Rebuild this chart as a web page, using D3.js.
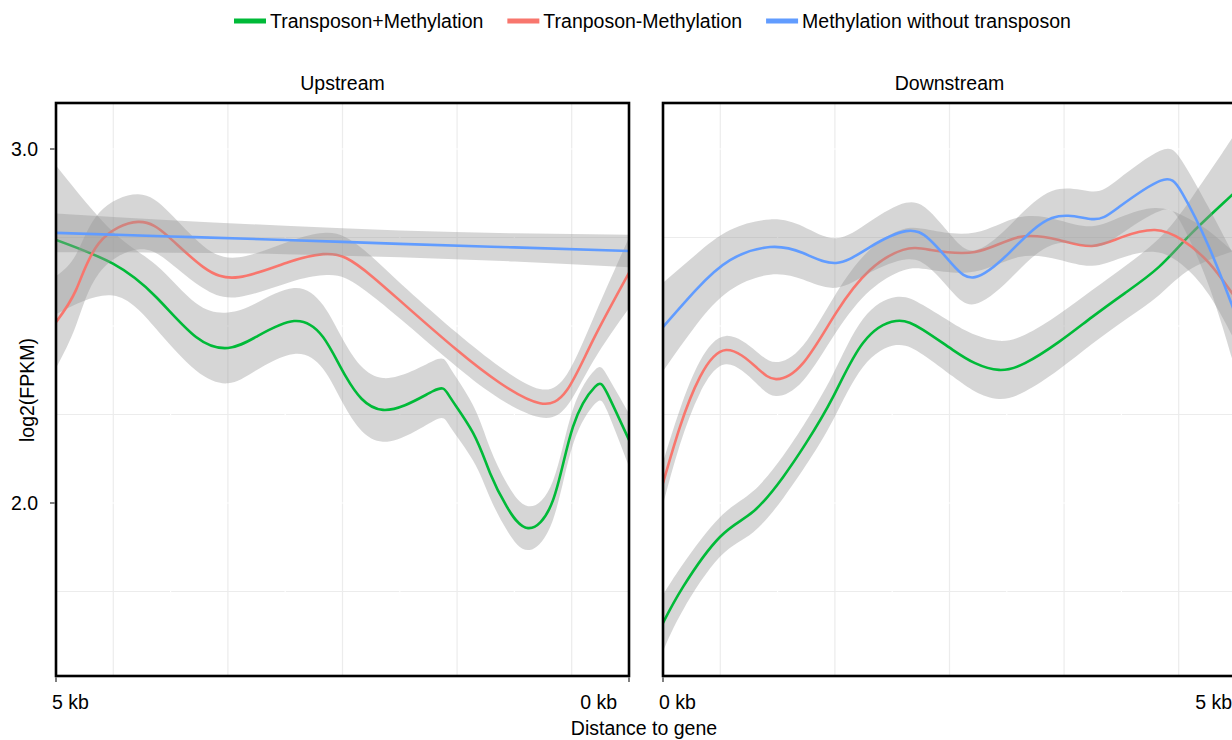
<!DOCTYPE html>
<html>
<head>
<meta charset="utf-8">
<script src="https://cdn.jsdelivr.net/npm/d3@7"></script>
<style>
  html, body { margin: 0; padding: 0; background: #fff; }
  svg { display: block; font-family: "Liberation Sans", Arial, Helvetica, sans-serif; }
</style>
</head>
<body>
<svg id="chart" width="1232" height="740"></svg>
<script>
// ---------------- data ----------------
const seriesNames = ["Transposon+Methylation", "Tranposon-Methylation", "Methylation without transposon"];
const seriesColors = ["#00BA38", "#F8766D", "#619CFF"];
const panelTitles = ["Upstream", "Downstream"];
const xTickLabelsUp = ["5 kb", "0 kb"];
const xTickLabelsDown = ["0 kb", "5 kb"];
const yTickValues = [2.0, 3.0];
const yTickLabels = ["2.0", "3.0"];

// Upstream (distance to gene, kb)
const upGreenX = [5.0, 4.503, 4.127, 3.778, 3.499, 3.255, 2.923, 2.670, 2.469, 2.147, 1.710, 1.562, 1.361, 1.213, 1.065, 0.881, 0.663, 0.489, 0.297, 0.192, 0.0];
const upGreenY = [2.743, 2.676, 2.582, 2.469, 2.438, 2.469, 2.514, 2.469, 2.356, 2.263, 2.316, 2.299, 2.198, 2.085, 1.989, 1.929, 2.008, 2.215, 2.328, 2.311, 2.178];
const upGreenSE = [0.21, 0.09, 0.09, 0.095, 0.1, 0.095, 0.093, 0.09, 0.09, 0.09, 0.085, 0.083, 0.078, 0.07, 0.066, 0.062, 0.055, 0.05, 0.048, 0.05, 0.075];

const upRedX = [5.0, 4.825, 4.625, 4.284, 4.014, 3.717, 3.403, 2.967, 2.670, 2.469, 2.234, 1.937, 1.501, 1.126, 0.777, 0.541, 0.314, 0.0];
const upRedY = [2.511, 2.602, 2.734, 2.794, 2.751, 2.667, 2.638, 2.681, 2.703, 2.692, 2.638, 2.554, 2.432, 2.339, 2.282, 2.319, 2.460, 2.650];
const upRedSE = [0.13, 0.1, 0.085, 0.078, 0.07, 0.06, 0.056, 0.058, 0.06, 0.058, 0.055, 0.05, 0.048, 0.045, 0.04, 0.045, 0.06, 0.1];

const upBlueX = [5, 4, 3, 2, 1, 0];
const upBlueY = [2.763, 2.753, 2.743, 2.732, 2.722, 2.712];
const upBlueSE = [0.055, 0.046, 0.04, 0.038, 0.04, 0.046];

// Downstream (distance to gene, kb)
const downGreenX = [0, 0.175, 0.497, 0.785, 1.047, 1.248, 1.483, 1.745, 2.033, 2.269, 2.531, 2.723, 2.932, 3.159, 3.455, 3.743, 4.031, 4.328, 4.616, 4.965, 5.0];
const downGreenY = [1.661, 1.763, 1.904, 1.975, 2.073, 2.169, 2.299, 2.452, 2.514, 2.489, 2.432, 2.395, 2.376, 2.395, 2.455, 2.525, 2.593, 2.667, 2.763, 2.870, 2.884];
const downGreenSE = [0.08, 0.065, 0.056, 0.058, 0.06, 0.062, 0.065, 0.068, 0.068, 0.07, 0.075, 0.08, 0.082, 0.08, 0.078, 0.076, 0.076, 0.08, 0.1, 0.16, 0.17];

const downRedX = [0, 0.148, 0.323, 0.550, 0.812, 0.986, 1.222, 1.510, 1.806, 2.094, 2.330, 2.723, 3.106, 3.455, 3.743, 4.005, 4.293, 4.529, 4.764, 4.965, 5.0];
const downRedY = [2.056, 2.215, 2.356, 2.432, 2.384, 2.350, 2.395, 2.537, 2.658, 2.715, 2.715, 2.709, 2.751, 2.743, 2.726, 2.751, 2.771, 2.743, 2.678, 2.593, 2.579];
const downRedSE = [0.06, 0.05, 0.045, 0.04, 0.045, 0.048, 0.05, 0.055, 0.058, 0.058, 0.056, 0.055, 0.056, 0.056, 0.056, 0.058, 0.062, 0.07, 0.09, 0.12, 0.13];

const downBlueX = [0, 0.288, 0.585, 0.934, 1.222, 1.510, 1.806, 2.120, 2.330, 2.531, 2.723, 3.019, 3.394, 3.743, 3.979, 4.337, 4.529, 4.764, 4.965, 5.0];
const downBlueY = [2.497, 2.602, 2.686, 2.723, 2.706, 2.678, 2.723, 2.768, 2.743, 2.672, 2.638, 2.706, 2.805, 2.802, 2.836, 2.910, 2.876, 2.723, 2.559, 2.531];
const downBlueSE = [0.125, 0.1, 0.085, 0.078, 0.075, 0.07, 0.072, 0.08, 0.08, 0.078, 0.076, 0.076, 0.076, 0.078, 0.08, 0.085, 0.09, 0.11, 0.15, 0.16];

// ---------------- layout ----------------
const svg = d3.select("#chart");
const plotTop = 103, plotBottom = 676;
const panels = [
  { title: panelTitles[0], x0: 56, x1: 629, domain: [5, 0], labels: xTickLabelsUp,
    series: [[upGreenX, upGreenY, upGreenSE], [upRedX, upRedY, upRedSE], [upBlueX, upBlueY, upBlueSE]] },
  { title: panelTitles[1], x0: 663, x1: 1236, domain: [0, 5], labels: xTickLabelsDown,
    series: [[downGreenX, downGreenY, downGreenSE], [downRedX, downRedY, downRedSE], [downBlueX, downBlueY, downBlueSE]] }
];

const y = d3.scaleLinear().domain([1.5113, 3.1299]).range([plotBottom, plotTop]);
const fontSize = 19.5;
const curve = d3.curveNatural;

panels.forEach((p, pi) => {
  const x = d3.scaleLinear().domain(p.domain).range([p.x0, p.x1]);
  const g = svg.append("g");
  const clipId = "clip" + pi;
  svg.append("clipPath").attr("id", clipId).append("rect")
    .attr("x", p.x0).attr("y", plotTop).attr("width", p.x1 - p.x0).attr("height", plotBottom - plotTop);

  // grid
  const minorY = [1.75, 2.25, 2.75];
  const minorX = [0.5, 1.5, 2.5, 3.5, 4.5];
  const majorY = [2.0, 2.5, 3.0];
  const majorX = [1, 2, 3, 4];
  g.selectAll(".minY").data(minorY).enter().append("line")
    .attr("x1", p.x0).attr("x2", p.x1).attr("y1", d => y(d)).attr("y2", d => y(d))
    .attr("stroke", "#ececec").attr("stroke-width", 1.2);
  g.selectAll(".minX").data(minorX).enter().append("line")
    .attr("x1", d => x(d)).attr("x2", d => x(d)).attr("y1", plotTop).attr("y2", plotBottom)
    .attr("stroke", "#ececec").attr("stroke-width", 1.2);
  g.selectAll(".majY").data(majorY).enter().append("line")
    .attr("x1", p.x0).attr("x2", p.x1).attr("y1", d => y(d)).attr("y2", d => y(d))
    .attr("stroke", "#ffffff").attr("stroke-width", 1.2);
  g.selectAll(".majX").data(majorX).enter().append("line")
    .attr("x1", d => x(d)).attr("x2", d => x(d)).attr("y1", plotTop).attr("y2", plotBottom)
    .attr("stroke", "#ffffff").attr("stroke-width", 1.2);

  const data = g.append("g").attr("clip-path", `url(#${clipId})`);
  p.series.forEach((s, si) => {
    const pts = s[0].map((xv, i) => ({ x: xv, y: s[1][i], se: s[2][i] }))
      .sort((a, b) => x(a.x) - x(b.x));
    const area = d3.area().x(d => x(d.x)).y0(d => y(d.y - d.se)).y1(d => y(d.y + d.se)).curve(curve);
    const line = d3.line().x(d => x(d.x)).y(d => y(d.y)).curve(curve);
    data.append("path").datum(pts).attr("d", area)
      .attr("fill", "#999999").attr("fill-opacity", 0.4).attr("stroke", "none");
    data.append("path").datum(pts).attr("d", line)
      .attr("fill", "none").attr("stroke", seriesColors[si]).attr("stroke-width", 2.6);
  });

  // border
  g.append("rect").attr("x", p.x0).attr("y", plotTop)
    .attr("width", p.x1 - p.x0).attr("height", plotBottom - plotTop)
    .attr("fill", "none").attr("stroke", "#000").attr("stroke-width", 2.6);

  // facet title
  svg.append("text").attr("x", (p.x0 + p.x1) / 2).attr("y", 90)
    .attr("text-anchor", "middle").attr("font-size", fontSize).attr("fill", "#000").text(p.title);

  // x ticks
  const xt = p.domain;
  svg.selectAll(null).data(xt).enter().append("line")
    .attr("x1", d => x(d)).attr("x2", d => x(d)).attr("y1", plotBottom + 1).attr("y2", plotBottom + 6)
    .attr("stroke", "#7f7f7f").attr("stroke-width", 2);
  svg.append("text").attr("x", x(xt[0]) - 4).attr("y", 709).attr("text-anchor", "start")
    .attr("font-size", fontSize).attr("fill", "#000").text(p.labels[0]);
  svg.append("text").attr("x", x(xt[1]) - (pi === 0 ? 12 : 4)).attr("y", 709)
    .attr("text-anchor", "end")
    .attr("font-size", fontSize).attr("fill", "#000").text(p.labels[1]);
});

// y axis (left panel only)
svg.selectAll(".ytick").data(yTickValues).enter().append("line")
  .attr("x1", 50).attr("x2", 55).attr("y1", d => y(d)).attr("y2", d => y(d))
  .attr("stroke", "#7f7f7f").attr("stroke-width", 2);
svg.selectAll(".ylab").data(yTickValues).enter().append("text")
  .attr("x", 38).attr("y", d => y(d) + 7).attr("text-anchor", "end")
  .attr("font-size", fontSize).attr("fill", "#000").text((d, i) => yTickLabels[i]);

// axis titles
svg.append("text").attr("transform", "translate(34,390) rotate(-90)")
  .attr("text-anchor", "middle").attr("font-size", fontSize).attr("fill", "#000").text("log2(FPKM)");
svg.append("text").attr("x", 644).attr("y", 735).attr("text-anchor", "middle")
  .attr("font-size", fontSize).attr("fill", "#000").text("Distance to gene");

// legend
let lx = 234;
seriesNames.forEach((name, i) => {
  svg.append("line").attr("x1", lx).attr("x2", lx + 32).attr("y1", 21).attr("y2", 21)
    .attr("stroke", seriesColors[i]).attr("stroke-width", 5);
  const t = svg.append("text").attr("x", lx + 36).attr("y", 28)
    .attr("font-size", fontSize).attr("fill", "#000").text(name);
  const w = t.node().getComputedTextLength();
  lx = lx + 36 + w + 24;
});
</script>
</body>
</html>
